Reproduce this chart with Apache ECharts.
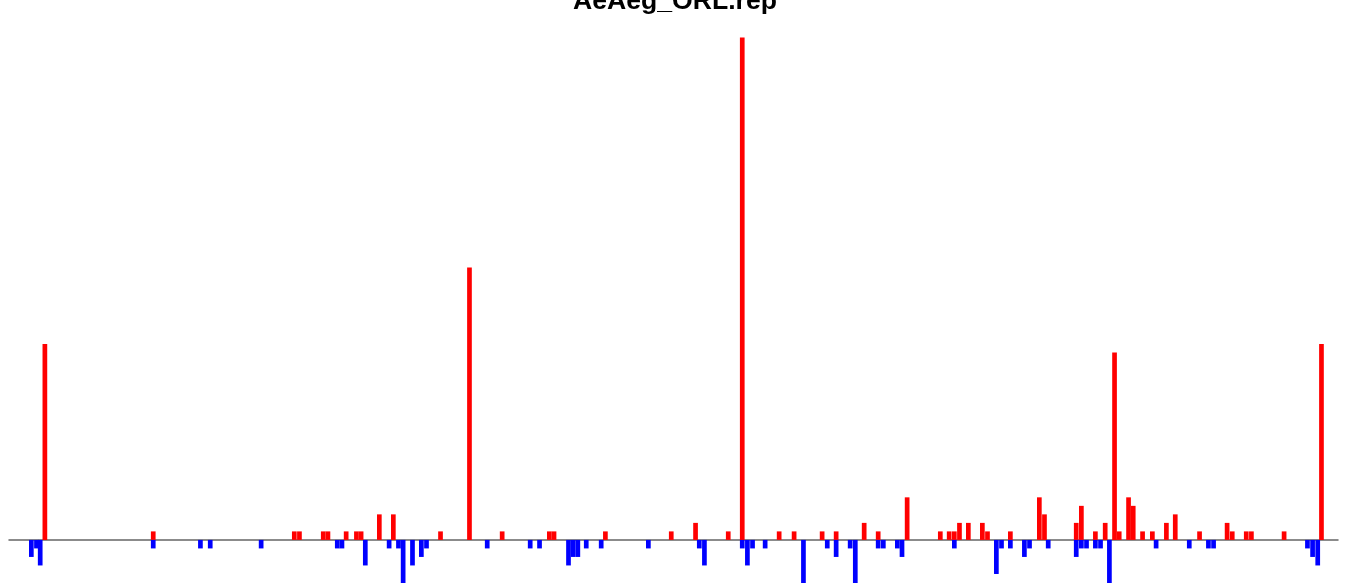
<!DOCTYPE html>
<html>
<head>
<meta charset="utf-8">
<style>
  html, body { margin: 0; padding: 0; background: #ffffff; }
  #chart { width: 1350px; height: 583px; }
</style>
<script src="https://cdn.jsdelivr.net/npm/echarts@6/dist/echarts.min.js"></script>
</head>
<body>
<div id="chart"></div>
<script>
// Title
const chartTitle = "AeAeg_ORL.rep";

// Positive (red) bars: position along the sequence (bin units) and count
const redPos = [2.9, 26.1, 56.3, 57.4, 62.5, 63.5, 67.4, 69.6, 70.6, 74.5, 77.5, 87.6, 93.8,
  100.8, 110.9, 111.9, 122.9, 137.0, 142.2, 149.2, 152.2, 160.1, 163.3, 169.3, 172.3, 178.3,
  181.3, 187.5, 194.6, 196.5, 197.6, 198.7, 200.6, 203.6, 204.7, 209.6, 215.8, 216.9, 223.7,
  224.8, 227.8, 229.9, 231.9, 232.9, 234.9, 235.9, 237.9, 240.0, 243.0, 244.9, 250.1, 256.0,
  257.1, 260.1, 261.2, 268.2, 276.2];
const redVal = [23, 1, 1, 1, 1, 1, 1, 1, 1, 3, 3, 1, 32,
  1, 1, 1, 1, 1, 2, 1, 59, 1, 1, 1, 1, 2,
  1, 5, 1, 1, 1, 2, 2, 2, 1, 1, 5, 3, 2,
  4, 1, 2, 22, 1, 5, 4, 1, 1, 2, 3, 1, 2,
  1, 1, 1, 1, 23];

// Negative (blue) bars: position and count
const bluePos = [0.0, 1.1, 1.9, 26.1, 36.2, 38.3, 49.2, 65.5, 66.5, 71.5, 76.6, 78.6, 79.6,
  81.6, 83.5, 84.6, 97.6, 106.8, 108.8, 115.0, 116.0, 117.0, 118.8, 122.0, 132.1, 143.0,
  144.1, 152.2, 153.3, 154.4, 157.1, 165.3, 170.4, 172.3, 175.3, 176.4, 181.3, 182.4, 185.4,
  186.4, 197.6, 206.6, 207.7, 209.6, 212.6, 213.7, 217.7, 223.7, 224.8, 225.9, 227.8, 228.9,
  230.8, 240.8, 247.9, 252.0, 253.1, 273.2, 274.3, 275.4];
const blueVal = [-2, -1, -3, -1, -1, -1, -1, -1, -1, -3, -1, -1, -6,
  -3, -2, -1, -1, -1, -1, -3, -2, -2, -1, -1, -1, -1,
  -3, -1, -3, -1, -1, -6, -1, -2, -1, -6, -1, -1, -1,
  -2, -1, -4, -1, -1, -2, -1, -1, -2, -1, -1, -1, -1,
  -6, -1, -1, -1, -1, -1, -2, -3];

const chart = echarts.init(document.getElementById('chart'), null, { renderer: 'canvas' });

const option = {
  animation: false,
  backgroundColor: '#ffffff',
  title: {
    text: chartTitle,
    left: 'center',
    top: -17,
    textStyle: {
      fontFamily: 'Liberation Sans, Arial, sans-serif',
      fontWeight: 'bold',
      fontSize: 26.6,
      color: '#000000'
    }
  },
  grid: {
    left: 9,
    right: 12,
    top: 37.5,
    bottom: 0,
    containLabel: false
  },
  xAxis: {
    type: 'value',
    min: -4.78,
    max: 279.74,
    axisLine: { show: true, onZero: true, lineStyle: { color: '#666666', width: 1.5 } },
    axisTick: { show: false },
    axisLabel: { show: false },
    splitLine: { show: false }
  },
  yAxis: {
    type: 'value',
    min: -5.06,
    max: 59,
    show: false,
    splitLine: { show: false }
  },
  series: [
    {
      name: 'plus',
      type: 'bar',
      barWidth: 4.7,
      barGap: '-100%',
      itemStyle: { color: '#ff0000' },
      data: redPos.map((p, i) => [p, redVal[i]])
    },
    {
      name: 'minus',
      type: 'bar',
      barWidth: 4.7,
      barGap: '-100%',
      clip: true,
      itemStyle: { color: '#0000ff' },
      data: bluePos.map((p, i) => [p, blueVal[i]])
    }
  ]
};

chart.setOption(option);
</script>
</body>
</html>
